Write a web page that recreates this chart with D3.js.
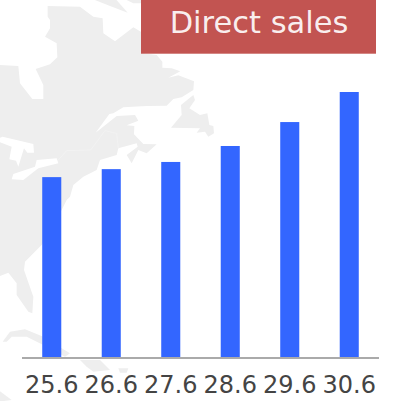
<!DOCTYPE html>
<html><head><meta charset="utf-8">
<script src="https://cdn.jsdelivr.net/npm/d3@7"></script>
<style>html,body{margin:0;padding:0;background:#fff}svg{display:block}</style>
</head><body>
<svg id="c" width="401" height="401"></svg>
<script>
const categories = ["25.6","26.6","27.6","28.6","29.6","30.6"];
const values = [68.0,71.0,73.7,79.7,88.7,100];
const title = "Direct sales";
const mapLand = [[-5,195],[55,198],[60,250],[97,297],[130,297],[130,255],[107,207],[150,193],[172,172],[170,130],[135,110],[150,85],[150,60],[143,50],[143,18],[240,20],[280,50],[308,55],[310,100],[345,124],[400,82],[430,100],[430,160],[470,165],[487,185],[487,203],[515,205],[541,214],[505,233],[535,226],[582,244],[580,270],[545,292],[520,297],[500,317],[440,318],[370,322],[340,340],[328,342],[287,398],[350,348],[405,345],[415,362],[380,376],[403,378],[402,403],[430,432],[470,433],[440,460],[415,450],[395,490],[380,465],[413,440],[410,430],[355,445],[350,465],[300,480],[290,510],[250,530],[220,555],[210,590],[200,600],[185,630],[130,730],[75,785],[72,810],[100,890],[97,940],[85,935],[50,885],[50,850],[25,818],[-5,830]];
const mapLake1 = [[8,410],[100,432],[102,458],[82,458],[72,445],[55,500],[48,482],[28,478],[35,440],[-5,425],[-5,415]];
const mapLake2 = [[35,538],[40,522],[105,500],[110,480],[170,475],[175,490],[115,505],[70,540]];
const mapIslands = [
  [[600,345],[622,340],[628,375],[640,378],[642,400],[625,410],[615,395],[590,398],[600,385],[513,383],[545,345],[543,315],[580,285],[585,300],[568,325]],
  [[272,-5],[330,18],[383,38],[345,-5]],
  [[370,-5],[400,10],[430,10],[430,-5]],
  [[8,1025],[30,995],[75,988],[130,1010],[185,1045],[210,1060],[195,1070],[130,1035],[80,1010],[35,1010],[20,1025]],
  [[240,1080],[300,1080],[330,1110],[280,1115],[260,1100]],
  [[355,1105],[385,1105],[380,1118],[360,1118]],
  [[-5,1170],[35,1200],[-5,1205]]
];
const mapBorder = [[175,480],[200,452],[272,450],[315,392],[350,400],[355,445]];

const svg = d3.select("#c");
const mx = d3.scaleLinear().domain([0,600]).range([0,200]);
const my = d3.scaleLinear().domain([0,600]).range([0,200]);
const line = d3.line().x(d=>mx(d[0])).y(d=>my(d[1]));
const closed = p => line(p)+"Z";
const map = svg.append("g");
map.append("path").attr("d",closed(mapLand)).attr("fill","#eeeeee");
map.selectAll("path.i").data(mapIslands).join("path").attr("class","i").attr("d",closed).attr("fill","#eeeeee");
map.selectAll("path.l").data([mapLake1,mapLake2]).join("path").attr("class","l").attr("d",closed).attr("fill","#fff");
map.append("path").attr("d",line(mapBorder)).attr("fill","none").attr("stroke","#f4f4f4").attr("stroke-width",0.7);

const x = d3.scaleBand().domain(categories).range([22,379]).paddingInner(0.68).paddingOuter(0.34);
const y = d3.scaleLinear().domain([0,100]).range([358,92]);

svg.append("g").selectAll("rect").data(values).join("rect")
  .attr("x",(d,i)=>x(categories[i])).attr("width",x.bandwidth())
  .attr("y",d=>y(d)).attr("height",d=>y(0)-y(d)).attr("fill","#3366ff");

const ax = svg.append("g").attr("transform","translate(0,358)").call(d3.axisBottom(x).tickSize(0).tickPadding(16));
ax.select(".domain").attr("stroke","#aaaaaa").attr("stroke-width",2).attr("d","M22,0H379");
ax.selectAll("text").attr("font-family","'DejaVu Sans'").attr("font-size",24).attr("fill","#444").attr("dy",0).attr("y",35).attr("dominant-baseline","auto");

svg.append("rect").attr("x",141).attr("y",0).attr("width",235).attr("height",53.7).attr("fill","#c25451");
svg.append("text").text(title).attr("x",259).attr("y",33).attr("text-anchor","middle")
  .attr("font-family","'DejaVu Sans'").attr("font-size",30.5).attr("fill","#fff").attr("fill-opacity",0.92);
</script>
</body></html>
